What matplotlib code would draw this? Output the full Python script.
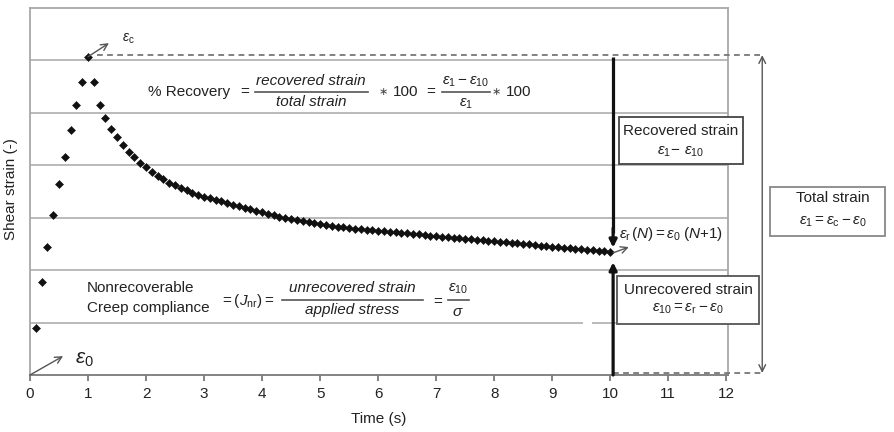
import matplotlib
matplotlib.use("Agg")
import matplotlib.pyplot as plt
from matplotlib.patches import Rectangle

plt.rcParams['font.family'] = ['Liberation Sans', 'DejaVu Sans']
plt.rcParams['mathtext.fontset'] = 'custom'
plt.rcParams['mathtext.rm'] = 'Liberation Sans'
plt.rcParams['mathtext.it'] = 'Liberation Sans:italic'
plt.rcParams['mathtext.bf'] = 'Liberation Sans:bold'

# ---- data ----
creep_time = [0.1, 0.2, 0.3, 0.4, 0.5, 0.6, 0.7, 0.8, 0.9, 1.0]
creep_strain = [0.90, 1.78, 2.44, 3.05, 3.64, 4.16, 4.67, 5.15, 5.59, 6.07]

recovery_time = [round(1.1 + 0.1 * i, 1) for i in range(90)]
recovery_strain = [
    5.59, 5.15, 4.90, 4.69, 4.53, 4.39, 4.26, 4.15, 4.05, 3.96,
    3.88, 3.80, 3.73, 3.67, 3.62, 3.57, 3.52, 3.48, 3.44, 3.40,
    3.37, 3.34, 3.31, 3.28, 3.25, 3.22, 3.19, 3.16, 3.13, 3.10,
    3.07, 3.05, 3.02, 3.00, 2.98, 2.96, 2.94, 2.92, 2.90, 2.88,
    2.86, 2.84, 2.83, 2.82, 2.80, 2.79, 2.78, 2.77, 2.76, 2.75,
    2.74, 2.73, 2.72, 2.71, 2.70, 2.69, 2.68, 2.67, 2.66, 2.65,
    2.64, 2.63, 2.62, 2.61, 2.60, 2.59, 2.58, 2.57, 2.56, 2.55,
    2.54, 2.53, 2.52, 2.51, 2.50, 2.49, 2.48, 2.47, 2.46, 2.45,
    2.44, 2.43, 2.42, 2.41, 2.40, 2.39, 2.38, 2.37, 2.36, 2.35,
]

x_ticks = [0, 1, 2, 3, 4, 5, 6, 7, 8, 9, 10, 11, 12]
x_tick_labels = ['0', '1', '2', '3', '4', '5', '6', '7', '8', '9', '10', '11', '12']
grid_levels = [1, 2, 3, 4, 5, 6]

eps_c = creep_strain[-1]
eps_r = recovery_strain[-1]
t_end = recovery_time[-1]

# ---- figure ----
fig = plt.figure(figsize=(8.94, 4.32), dpi=100)
ax = fig.add_axes([30 / 894, 57 / 432, 698 / 894, 367 / 432])
ax.set_xlim(0, 12.03)
ax.set_ylim(0, 7)

grid_col = '#b4b4b4'
for lvl in grid_levels:
    if lvl == 1:
        ax.hlines([lvl, lvl], [0, 9.69], [9.53, 12.03], color=grid_col, lw=1.3, zorder=1)
    else:
        ax.axhline(lvl, color=grid_col, lw=1.3, zorder=1)

for s in ['left', 'top', 'right']:
    ax.spines[s].set_color('#a8a8a8')
    ax.spines[s].set_linewidth(1.3)
ax.spines['bottom'].set_color('#7a7a7a')
ax.spines['bottom'].set_linewidth(1.3)

ax.set_yticks([])
ax.set_xticks(x_ticks)
ax.set_xticklabels(x_tick_labels)
ax.tick_params(axis='x', direction='out', length=4.5, width=1.3, color='#7a7a7a',
               labelsize=11, labelcolor='#222222', pad=4)
ax.set_xlabel('Time (s)', fontsize=11, color='#222222', labelpad=8)
ax.set_ylabel('Shear strain (-)', fontsize=11, color='#222222')
ax.yaxis.set_label_coords(-0.0165, 0.508)

# data points
ax.plot(creep_time, creep_strain, linestyle='none', marker='D', ms=3.8,
        color='#111111', mew=0.4, zorder=5)
ax.plot(recovery_time, recovery_strain, linestyle='none', marker='D', ms=3.8,
        color='#111111', mew=0.4, zorder=5)

# ---- annotations ----
dash_col = '#777777'
x_total = 12.62
ax.plot([1.15, x_total], [eps_c + 0.03, eps_c + 0.03], ls=(0, (3.2, 2.4)), color=dash_col,
        lw=1.3, clip_on=False, zorder=3)
ax.plot([t_end + 0.05, x_total], [0.04, 0.04], ls=(0, (3.2, 2.4)), color=dash_col,
        lw=1.3, clip_on=False, zorder=3)
ax.annotate('', xy=(x_total, eps_c + 0.03), xytext=(x_total, 0.04),
            arrowprops=dict(arrowstyle='<->', color='#555555', lw=1.0,
                            shrinkA=0, shrinkB=0, mutation_scale=12),
            annotation_clip=False)

# thick arrows at t = 10
ax.plot([t_end + 0.05, t_end + 0.05], [eps_c, 2.7], color='#111111', lw=2.3, zorder=6,
        solid_capstyle='butt')
ax.annotate('', xy=(t_end + 0.05, 2.43), xytext=(t_end + 0.05, 2.8),
            arrowprops=dict(arrowstyle='-|>', color='#111111', lw=2.3,
                            shrinkA=0, shrinkB=0, mutation_scale=11),
            annotation_clip=False, zorder=6)
ax.annotate('', xy=(t_end + 0.05, 2.15), xytext=(t_end + 0.05, 0.0),
            arrowprops=dict(arrowstyle='-|>', color='#111111', lw=2.3,
                            shrinkA=0, shrinkB=0, mutation_scale=11),
            annotation_clip=False, zorder=6)

thin = dict(arrowstyle='->', color='#555555', lw=1.0, shrinkA=0, shrinkB=0,
            mutation_scale=12)
# eps_c
ax.annotate('', xy=(1.36, 6.33), xytext=(1.0, eps_c), arrowprops=thin, zorder=6)
ax.text(1.70, 6.42, r'$\varepsilon_\mathrm{c}$', fontsize=10, ha='center', va='center',
        color='#222222')
# eps_0
ax.annotate('', xy=(0.57, 0.36), xytext=(0.0, 0.0), arrowprops=thin, zorder=6,
            annotation_clip=False)
ax.text(0.93, 0.30, r'$\varepsilon_0$', fontsize=15, ha='center', va='center',
        color='#222222')
# eps_r
ax.annotate('', xy=(10.32, 2.44), xytext=(t_end + 0.05, eps_r - 0.02), arrowprops=thin,
            zorder=7, annotation_clip=False)
ax.text(10.16, 2.69, r'$\varepsilon_\mathrm{r}\,(N) = \varepsilon_0\;(N{+}1)$', fontsize=11,
        ha='left', va='center', color='#222222', clip_on=False)

tc = '#222222'
fs = 11
# % Recovery formula
ax.text(2.03, 5.40, '% Recovery', fontsize=fs, ha='left', va='center', color=tc)
ax.text(3.70, 5.40, '=', fontsize=fs, ha='center', va='center', color=tc)
ax.text(4.84, 5.60, 'recovered strain', fontsize=fs, style='italic', ha='center',
        va='center', color=tc)
ax.text(4.84, 5.20, 'total strain', fontsize=fs, style='italic', ha='center',
        va='center', color=tc)
ax.plot([3.87, 5.83], [5.40, 5.40], color='#555555', lw=1.2)
ax.text(6.08, 5.40, '\u2217', fontsize=8, ha='center', va='center', color='#444444',
        family=['DejaVu Sans'])
ax.text(6.48, 5.40, '100', fontsize=fs, ha='center', va='center', color=tc)
ax.text(6.91, 5.40, '=', fontsize=fs, ha='center', va='center', color=tc)
ax.text(7.51, 5.60, r'$\varepsilon_1 - \varepsilon_{10}$', fontsize=fs, ha='center',
        va='center', color=tc)
ax.text(7.51, 5.18, r'$\varepsilon_1$', fontsize=fs, ha='center', va='center', color=tc)
ax.plot([7.10, 7.93], [5.40, 5.40], color='#555555', lw=1.2)
ax.text(8.03, 5.40, '\u2217', fontsize=8, ha='center', va='center', color='#444444',
        family=['DejaVu Sans'])
ax.text(8.42, 5.40, '100', fontsize=fs, ha='center', va='center', color=tc)

# Nonrecoverable formula
ax.text(0.98, 1.66, 'Nonrecoverable', fontsize=fs, ha='left', va='center', color=tc)
ax.text(0.98, 1.28, 'Creep compliance', fontsize=fs, ha='left', va='center', color=tc)
ax.text(3.74, 1.42, r'$= (J_\mathrm{nr}) =$', fontsize=fs, ha='center', va='center', color=tc)
ax.text(5.56, 1.66, 'unrecovered strain', fontsize=fs, style='italic', ha='center',
        va='center', color=tc)
ax.text(5.56, 1.24, 'applied stress', fontsize=fs, style='italic', ha='center',
        va='center', color=tc)
ax.plot([4.34, 6.78], [1.44, 1.44], color='#555555', lw=1.2)
ax.text(7.02, 1.40, '=', fontsize=fs, ha='center', va='center', color=tc)
ax.text(7.38, 1.64, r'$\varepsilon_{10}$', fontsize=fs, ha='center', va='center', color=tc)
ax.text(7.38, 1.20, r'$\sigma$', fontsize=fs, ha='center', va='center', color=tc)
ax.plot([7.21, 7.56], [1.44, 1.44], color='#555555', lw=1.2)

# boxes
def box(x0, y0, x1, y1, ec):
    r = Rectangle((x0, y0), x1 - x0, y1 - y0, facecolor='white', edgecolor=ec,
                  lw=1.3, clip_on=False, zorder=8)
    ax.add_patch(r)

box(10.16, 4.02, 12.28, 4.92, '#444444')
ax.text(11.22, 4.66, 'Recovered strain', fontsize=fs, ha='center', va='center', color=tc,
        zorder=9)
ax.text(11.22, 4.25, r'$\varepsilon_1\!-\,\varepsilon_{10}$', fontsize=fs, ha='center',
        va='center', color=tc, zorder=9)

box(10.12, 0.97, 12.57, 1.89, '#555555')
ax.text(11.34, 1.62, 'Unrecovered strain', fontsize=fs, ha='center', va='center', color=tc,
        zorder=9)
ax.text(11.34, 1.26, r'$\varepsilon_{10} = \varepsilon_\mathrm{r} - \varepsilon_0$',
        fontsize=fs, ha='center', va='center', color=tc, zorder=9)

box(12.76, 2.65, 14.74, 3.59, '#888888')
ax.text(13.84, 3.38, 'Total strain', fontsize=fs, ha='center', va='center', color=tc,
        zorder=9)
ax.text(13.84, 2.92, r'$\varepsilon_1 = \varepsilon_\mathrm{c} - \varepsilon_0$', fontsize=fs,
        ha='center', va='center', color=tc, zorder=9)

fig.savefig('out.png', dpi=100)
